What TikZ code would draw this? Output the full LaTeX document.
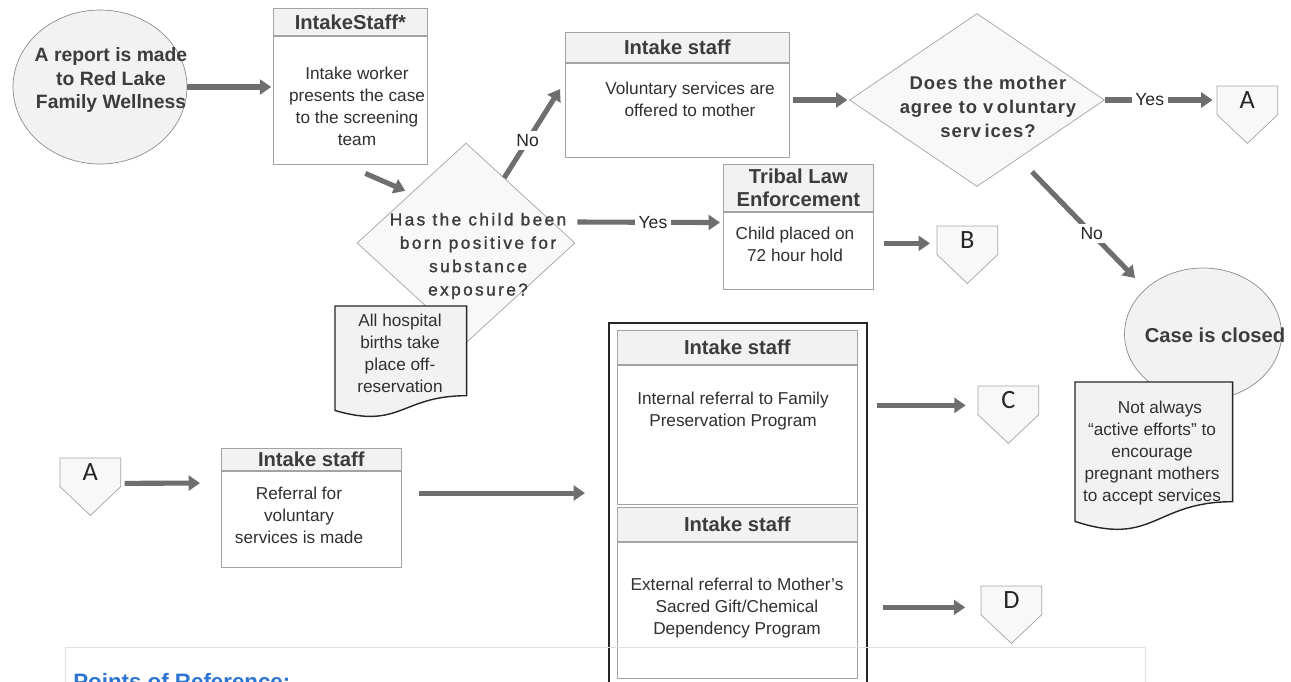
\documentclass[tikz,border=0pt]{standalone}
\usepackage{fontspec}
\setmainfont{Liberation Sans}
\newfontfamily\connfont{Carlito}
\usetikzlibrary{arrows.meta, positioning, shapes.geometric, calc}

\definecolor{arrgray}{HTML}{6E6E6E}
\definecolor{boxline}{HTML}{A3A3A3}
\definecolor{ttlfill}{HTML}{F2F2F2}
\definecolor{shapefill}{HTML}{F8F8F8}
\definecolor{darktext}{HTML}{3C3C3C}
\definecolor{bodytext}{HTML}{303030}
\definecolor{refblue}{RGB}{46,116,210}

% off-page connector outline round a square node
\newcommand{\offpage}[1]{\draw[boxline, fill=shapefill] (#1.north west) -- (#1.north east) -- (#1.south east) -- ($(#1.south)!-1!(#1.north)$) -- (#1.south west) -- cycle;}
% note with a wavy bottom
\newcommand{\docnote}[1]{\draw[black!85, line width=0.8pt, fill=ttlfill] (#1.north west) -- (#1.north east) -- (#1.south east) .. controls (#1.south) and ($(#1.south)!-0.38!(#1.north)$) .. ($(#1.south west)!-0.165!(#1.north west)$) -- cycle;}

\begin{document}
\begin{tikzpicture}[x=0.02cm, y=-0.02cm,
    arr/.style={draw=arrgray, line width=2.9pt, -{Triangle[length=6.5pt,width=8.5pt]}},
    ttl/.style={draw=boxline, fill=ttlfill, anchor=north west, inner sep=0pt, align=center, text=darktext, font=\bfseries\fontsize{11.5}{13}\selectfont},
    bdy/.style={draw=boxline, fill=white, inner sep=0pt, below=0pt of #1},
    txt/.style={align=center, text=bodytext, inner sep=0pt, font=\fontsize{9.8}{12.5}\selectfont},
    bigtxt/.style={align=center, text=darktext, inner sep=0pt, font=\bfseries\fontsize{11}{13.2}\selectfont},
    dia/.style={diamond, draw=boxline, fill=shapefill, inner sep=0pt},
    oval/.style={ellipse, draw=black!45, fill=ttlfill, inner sep=0pt},
    lbl/.style={fill=white, inner sep=2pt, text=black!85, font=\fontsize{10}{12}\selectfont},
    conn/.style={minimum width=1.2cm, minimum height=0.56cm, inner sep=0pt, anchor=north west},
    letter/.style={text=black!85, inner sep=0pt, font=\connfont\fontsize{15}{15}\selectfont},
    note/.style={minimum width=#1, inner sep=0pt, anchor=north west}]
\useasboundingbox (0,0) rectangle (1291,681);

% top row
\node[oval, minimum width=3.48cm, minimum height=3.08cm] (c1) at (100,87) {};
\node[bigtxt] (c1t) at (111,80) {A report is made\\to Red Lake\\Family Wellness};

\node[ttl, minimum width=3.08cm, minimum height=0.54cm] (t1) at (273,8) {IntakeStaff*};
\node[bdy=t1, minimum width=3.08cm, minimum height=2.56cm] (b1) {};
\node[txt] (b1t) at (357,106) {Intake worker\\presents the case\\to the screening\\team};

\node[dia, minimum width=4.36cm, minimum height=4cm] (d1) at (466,243) {};
\node[txt, text=darktext, font=\fontsize{9.8}{13.3}\selectfont\addfontfeatures{LetterSpace=14,FakeBold=1.3}] (d1t) at (478,256) {Has the child been\\born positive for\\substance\\exposure?};

\node[note=2.62cm, minimum height=1.78cm] (n1) at (335,306) {};
\docnote{n1}
\node[txt] (n1t) at (400,353) {All hospital\\births take\\place off-\\reservation};

\node[ttl, minimum width=4.48cm, minimum height=0.6cm] (t2) at (565,32) {Intake staff};
\node[bdy=t2, minimum width=4.48cm, minimum height=1.88cm] (b2) {};
\node[txt] (b2t) at (690,99) {Voluntary services are\\offered to mother};

\node[dia, minimum width=5.1cm, minimum height=3.46cm] (d2) at (977,100) {};
\node[bigtxt, font=\bfseries\fontsize{10.5}{13.6}\selectfont\addfontfeatures{LetterSpace=5}] (d2t) at (988,107) {Does the mother\\agree to v\kern2pt oluntary\\serv\kern2pt ices?};

\node[conn] (pA) at (1217,86) {};
\offpage{pA}
\node[letter] (pAl) at (pA) {A};

\node[ttl, minimum width=3cm, minimum height=0.94cm] (t4) at (723,164) {Tribal Law\\Enforcement};
\node[bdy=t4, minimum width=3cm, minimum height=1.54cm] (b4) {};
\node[txt] (b4t) at (795,244) {Child placed on\\72 hour hold};

\node[conn] (pB) at (937,226) {};
\offpage{pB}
\node[letter] (pBl) at (pB) {B};

\node[oval, minimum width=3.14cm, minimum height=2.64cm] (c2) at (1203,334) {};
\node[bigtxt, font=\bfseries\fontsize{11.5}{13.5}\selectfont] (c2t) at (1215,335) {Case is closed};

\node[note=3.14cm, minimum height=2.38cm] (n2) at (1075,382) {};
\docnote{n2}
\node[txt] (n2t) at (1152,453) {\hspace*{9pt}Not always\\``active efforts'' to\\encourage\\pregnant mothers\\to accept services};

% bottom row
\node[conn] (pA2) at (60,458) {};
\offpage{pA2}
\node[letter] (pA2l) at (pA2) {A};

\node[ttl, minimum width=3.6cm, minimum height=0.44cm] (t6) at (221,448) {Intake staff};
\node[bdy=t6, minimum width=3.6cm, minimum height=1.92cm] (b6) {};
\node[txt] (b6t) at (299,515) {Referral for\\voluntary\\services is made};

\node[draw=black!85, line width=1.1pt, minimum width=5.16cm, minimum height=7.56cm, anchor=north west, inner sep=0pt] (big) at (608,322) {};
\node[ttl, minimum width=4.8cm, minimum height=0.68cm] (t7) at (617,330) {Intake staff};
\node[bdy=t7, minimum width=4.8cm, minimum height=2.78cm] (b7) {};
\node[txt] (b7t) at (733,411) {Internal referral to Family\\Preservation Program};
\node[ttl, minimum width=4.8cm, minimum height=0.68cm] (t8) at (617,507) {Intake staff};
\node[bdy=t8, minimum width=4.8cm, minimum height=2.72cm] (b8) {};
\node[txt] (b8t) at (737,608) {External referral to Mother's\\Sacred Gift/Chemical\\Dependency Program};

\node[conn] (pC) at (978,386) {};
\offpage{pC}
\node[letter] (pCl) at (pC) {C};
\node[conn] (pD) at (981,586) {};
\offpage{pD}
\node[letter] (pDl) at (pD) {D};

% connectors
\draw[arr, shorten >=1pt] (c1.east) -- (c1.east -| b1.west);
\draw[arr] ($(b1.south)+(15,9)$) -- ($(d1.west)!0.5!(d1.north)+(-6,-2)$);
\draw[arr] ($(d1.north)!0.35!(d1.east)$) -- node[lbl, pos=0.42]{No} ($(b2.west)+(-5,-21)$);
\draw[arr, shorten <=2pt, shorten >=1pt] (d2.west -| b2.east) -- (d2.west);
\draw[arr, shorten >=2.5pt] (d2.east) -- node[lbl, pos=0.4]{Yes} (d2.east -| pA.west);
\draw[arr] ($(d2.south)+(55,-15)$) -- node[lbl, pos=0.58]{No} ($(c2.center)+(-68,-56)$);
\draw[arr] ($(d1.east)+(2,-21)$) -- node[lbl, pos=0.53]{Yes} ($(b4.west)+(-3,-28)$);
\draw[arr, shorten <=6pt, shorten >=4pt] ($(pB.west -| b4.east)+(0,3)$) -- ($(pB.west)+(0,3)$);
\draw[arr] ($(pA2.east)+(4,11)$) -- ($(b6.west)+(-21,-36)$);
\draw[arr] ($(b6.east)+(17,-26)$) -- ($(b6.east -| big.west)+(-23,-26)$);
\draw[arr, shorten <=5pt, shorten >=7pt] ($(pC.west -| big.east)+(0,5)$) -- ($(pC.west)+(0,5)$);
\draw[arr, shorten <=8.5pt, shorten >=9pt] ($(pD.west -| big.east)+(0,7)$) -- ($(pD.west)+(0,7)$);

% points of reference
\node[draw=black!12, minimum width=21.6cm, minimum height=2cm, anchor=north west, inner sep=0pt] (refbox) at (65,647) {};
\node[anchor=base west, text=refblue, inner sep=0pt, font=\bfseries\fontsize{12.7}{15}\selectfont] (reft) at (73,689) {Points of Reference:};
\end{tikzpicture}
\end{document}
